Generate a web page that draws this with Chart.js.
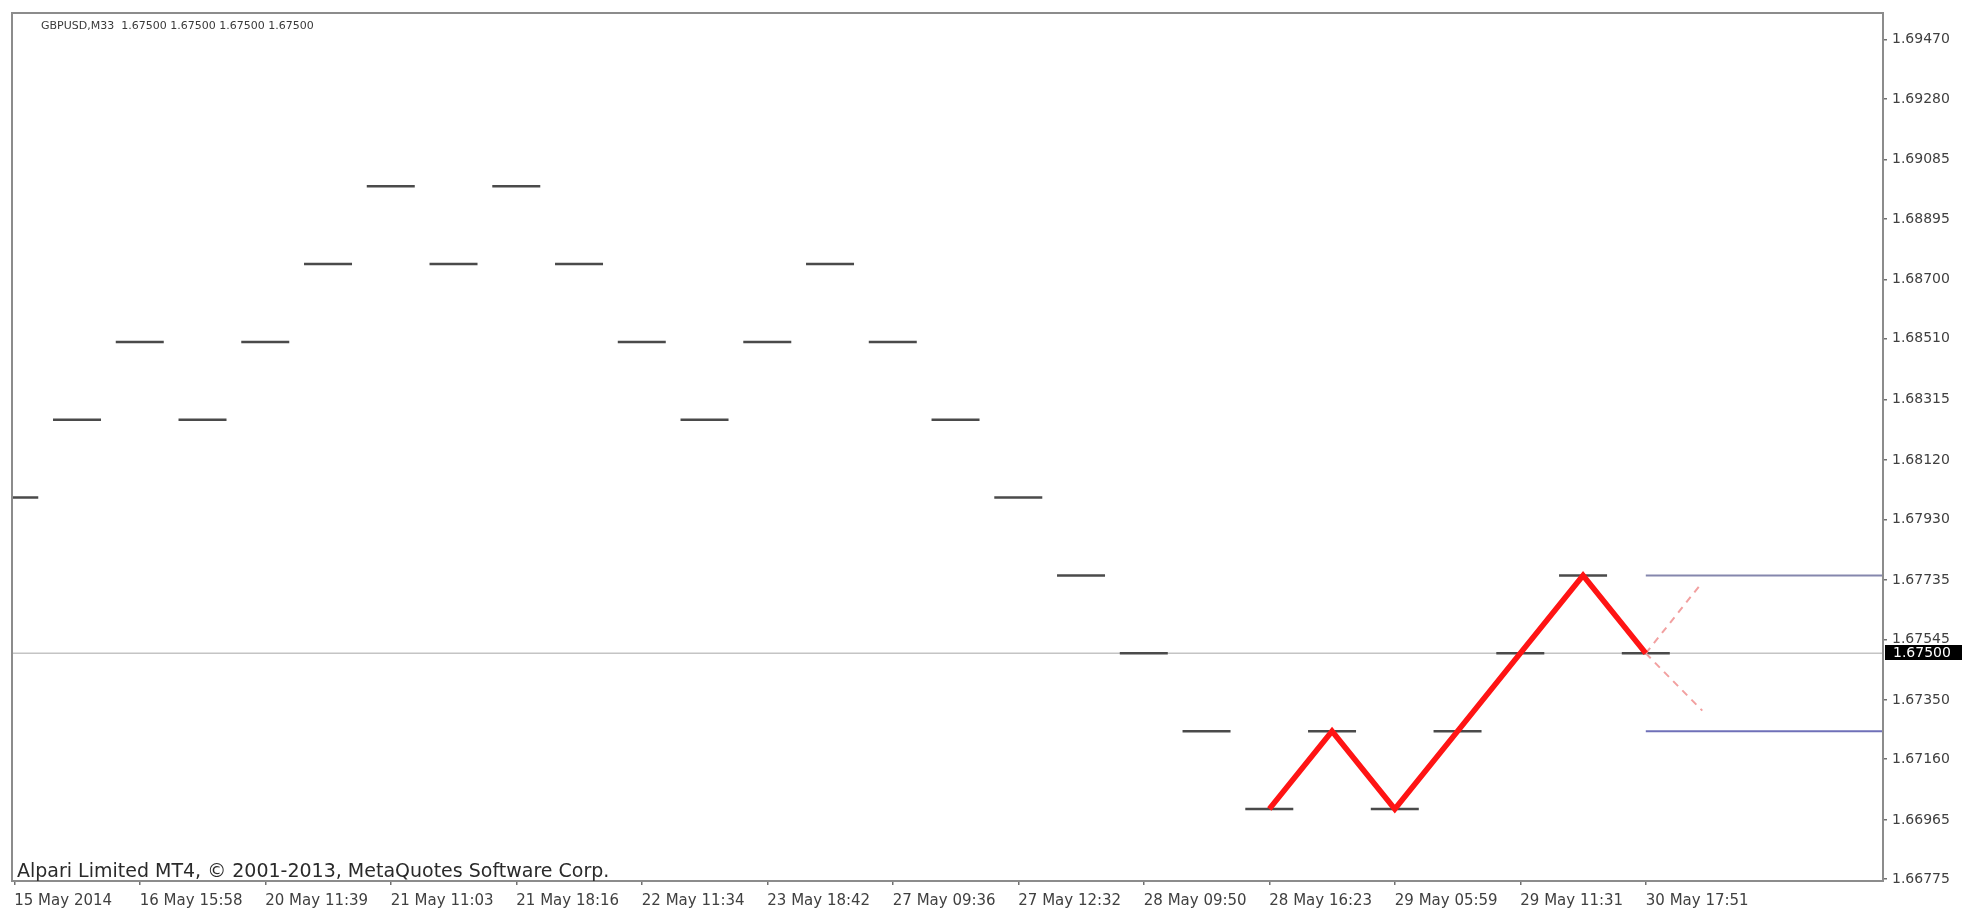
<!DOCTYPE html>
<html>
<head>
<meta charset="utf-8">
<script src="https://cdn.jsdelivr.net/npm/chart.js@4/dist/chart.umd.min.js"></script>
<style>
  html, body { margin: 0; padding: 0; background: #ffffff; }
  #wrap { width: 1965px; height: 913px; position: relative; }
</style>
</head>
<body>
<div id="wrap"><canvas id="c"></canvas></div>
<script>
// ---- data ----
const symbolTitle = 'GBPUSD,M33  1.67500 1.67500 1.67500 1.67500';
const copyrightText = 'Alpari Limited MT4, \u00A9 2001-2013, MetaQuotes Software Corp.';

// one horizontal box mark per column (column index = array index)
const boxPrices = [1.6800, 1.6825, 1.6850, 1.6825, 1.6850, 1.6875, 1.6900, 1.6875, 1.6900,
                   1.6875, 1.6850, 1.6825, 1.6850, 1.6875, 1.6850, 1.6825, 1.6800, 1.6775,
                   1.6750, 1.6725, 1.6700, 1.6725, 1.6700, 1.6725, 1.6750, 1.6775, 1.6750];

// red zig-zag (columns 20..26)
const zigzagColumns = [20, 21, 22, 23, 24, 25, 26];
const zigzagPrices  = [1.6700, 1.6725, 1.6700, 1.6725, 1.6750, 1.6775, 1.6750];

// dashed projections from the last column
const projectionColumns = [26, 26.9];
const projectionUp   = [1.6750, 1.67728];
const projectionDown = [1.6750, 1.67316];

// blue target levels drawn from the last column to the right edge
const targetStartColumn = 26;
const targetLevels = [1.6775, 1.6725];

const currentPrice = 1.67500;
const currentPriceLabel = '1.67500';

// axes
const xMin = -0.036, xMax = 29.78;
const yMin = 1.66769, yMax = 1.69556;
const xTickColumns = [0, 2, 4, 6, 8, 10, 12, 14, 16, 18, 20, 22, 24, 26];
const xTickLabels = ['15 May 2014', '16 May 15:58', '20 May 11:39', '21 May 11:03', '21 May 18:16',
                     '22 May 11:34', '23 May 18:42', '27 May 09:36', '27 May 12:32', '28 May 09:50',
                     '28 May 16:23', '29 May 05:59', '29 May 11:31', '30 May 17:51'];
const yTickValues = [1.69470, 1.69280, 1.69085, 1.68895, 1.68700, 1.68510, 1.68315, 1.68120,
                     1.67930, 1.67735, 1.67545, 1.67350, 1.67160, 1.66965, 1.66775];
const yTickLabels = ['1.69470', '1.69280', '1.69085', '1.68895', '1.68700', '1.68510', '1.68315', '1.68120',
                     '1.67930', '1.67735', '1.67545', '1.67350', '1.67160', '1.66965', '1.66775'];

// ---- build ----
const FONT = 'DejaVu Sans';
const AXIS_COLOR = '#8c8c8c';

const boxPoints = boxPrices.map((p, i) => ({ x: i, y: p }));
const zigzagPoints = zigzagColumns.map((c, i) => ({ x: c, y: zigzagPrices[i] }));
const projUpPts = projectionColumns.map((c, i) => ({ x: c, y: projectionUp[i] }));
const projDownPts = projectionColumns.map((c, i) => ({ x: c, y: projectionDown[i] }));

const datasets = [];
datasets.push({
  type: 'line', data: [{ x: xMin, y: currentPrice }, { x: xMax, y: currentPrice }],
  borderColor: '#c4c4c4', borderWidth: 1.5, pointRadius: 0, order: 6, clip: 0
});
targetLevels.forEach((lv, k) => {
  datasets.push({
    type: 'line', data: [{ x: targetStartColumn, y: lv }, { x: xMax, y: lv }],
    borderColor: k === 0 ? '#8587ad' : '#6f70b8', borderWidth: 2, pointRadius: 0, order: 5, clip: 0
  });
});
datasets.push({
  type: 'scatter', data: boxPoints, showLine: false,
  pointStyle: 'line', pointRadius: 24, pointHoverRadius: 24,
  pointBorderWidth: 2.5, pointBorderColor: '#4a4a4a', pointBackgroundColor: '#4a4a4a',
  order: 4, clip: 0
});
[projUpPts, projDownPts].forEach(pts => {
  datasets.push({
    type: 'line', data: pts, borderColor: '#f2a0a0', borderWidth: 2,
    borderDash: [7, 6], pointRadius: 0, order: 3, clip: 0
  });
});
datasets.push({
  type: 'line', data: zigzagPoints, borderColor: '#ff1414', borderWidth: 5.5,
  pointRadius: 0, tension: 0, order: 1, clip: 0, borderJoinStyle: 'miter'
});

const framePlugin = {
  id: 'frame',
  afterDraw(chart) {
    const { ctx, chartArea: a, scales } = chart;
    ctx.save();
    // frame
    ctx.strokeStyle = AXIS_COLOR;
    ctx.lineWidth = 2;
    ctx.strokeRect(a.left, a.top, a.right - a.left, a.bottom - a.top);
    // title
    ctx.fillStyle = '#3a3a3a';
    ctx.font = '11px "' + FONT + '"';
    ctx.textBaseline = 'middle';
    ctx.textAlign = 'left';
    ctx.fillText(symbolTitle, 41, 26);
    // copyright
    ctx.fillStyle = '#2a2a2a';
    ctx.font = '19px "' + FONT + '"';
    ctx.fillText(copyrightText, 17, 872);
    // current price box
    const y = scales.y.getPixelForValue(currentPrice);
    ctx.fillStyle = '#000000';
    ctx.fillRect(a.right + 2, Math.round(y) - 8, 77, 15);
    ctx.fillStyle = '#ffffff';
    ctx.font = '14px "' + FONT + '"';
    ctx.fillText(currentPriceLabel, a.right + 10, Math.round(y));
    ctx.restore();
  }
};

new Chart(document.getElementById('c'), {
  data: { datasets },
  options: {
    responsive: true,
    maintainAspectRatio: false,
    animation: false,
    events: [],
    layout: { autoPadding: false, padding: { left: 12, top: 13, right: 0, bottom: 0 } },
    plugins: { legend: { display: false }, tooltip: { enabled: false }, title: { display: false } },
    scales: {
      x: {
        type: 'linear', min: xMin, max: xMax, position: 'bottom',
        afterBuildTicks(s) { s.ticks = xTickColumns.map(v => ({ value: v })); },
        afterFit(s) { s.height = 32; s.paddingLeft = 0; s.paddingRight = 0; },
        grid: { display: true, drawOnChartArea: false, drawTicks: true, tickLength: 4, color: '#707070', lineWidth: 1.5 },
        border: { display: true, color: AXIS_COLOR, width: 2 },
        ticks: {
          autoSkip: false, maxRotation: 0, minRotation: 0, align: 'start', padding: 7,
          color: '#404040', font: { family: FONT, size: 15 },
          callback: (v, i) => xTickLabels[i]
        }
      },
      y: {
        type: 'linear', min: yMin, max: yMax, position: 'right',
        afterBuildTicks(s) { s.ticks = yTickValues.map(v => ({ value: v })); },
        afterFit(s) { s.width = 82; s.paddingTop = 0; s.paddingBottom = 0; },
        grid: { display: true, drawOnChartArea: false, drawTicks: true, tickLength: 4, color: '#707070', lineWidth: 1.5 },
        border: { display: true, color: AXIS_COLOR, width: 2 },
        ticks: {
          autoSkip: false, padding: 5,
          color: '#404040', font: { family: FONT, size: 14 },
          callback: (v, i) => yTickLabels[i]
        }
      }
    }
  },
  plugins: [framePlugin]
});
</script>
</body>
</html>
